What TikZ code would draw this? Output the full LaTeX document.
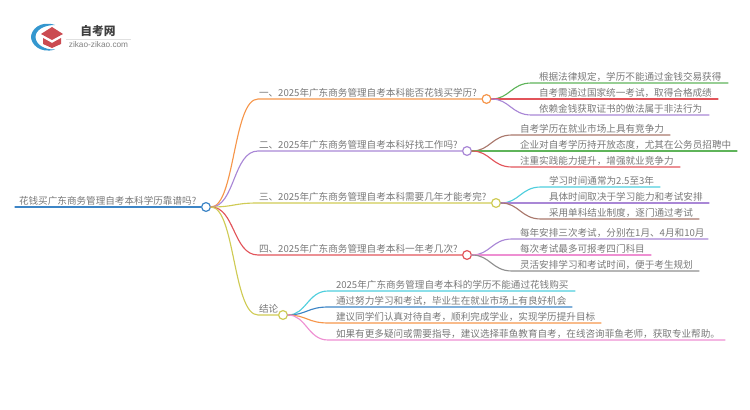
\documentclass[tikz,border=0pt]{standalone}
\usepackage{fontspec}
\usetikzlibrary{calc}
\setmainfont{Noto Sans CJK SC}
\newfontfamily\latinf{Liberation Sans}
\definecolor{cblue}{HTML}{3D85C6}
\definecolor{corange}{HTML}{F6964B}
\definecolor{cpurple}{HTML}{A987D6}
\definecolor{colive}{HTML}{CFCB55}
\definecolor{cred}{HTML}{E2545A}
\definecolor{cgreen}{HTML}{5FB45A}
\definecolor{cbrown}{HTML}{A9786C}
\definecolor{ccyan}{HTML}{4FCEDD}
\definecolor{cpink}{HTML}{EE8FD2}
\definecolor{cgray}{HTML}{8F8F8F}
\definecolor{tgray}{HTML}{787878}
\newcommand{\ontext}[1]{\raisebox{2.1pt}[7pt][0pt]{#1}}
\tikzset{
 x=0.75pt,y=-0.75pt,
 lbl/.style={anchor=south west,inner sep=0pt,outer sep=0pt,font=\fontsize{7.2}{8}\selectfont,text=tgray,align=left},
 knob/.style={circle,draw=#1,fill=white,line width=0.9pt,minimum size=6.6pt,inner sep=0pt},
 conn/.style={line width=0.85pt,line cap=round},
}
% \branchn{name}{xstart}{width}{y}{colour}{text}{circle x}
\newcommand{\branchn}[7]{%
 \node[lbl,text width=#3*0.75pt] (#1) at (#2,#4) {\ontext{#6}};
 \node[knob=#5] (#1k) at (#7,#4) {};
 \draw[conn,#5] (root.east) .. controls ($(root.east)+(24,0)$) and ($(#1.south west)+(-26,0)$) .. ($(#1.south west)+(-1,0)$) -- (#1k.west);
}
% \leafn{name}{parent}{xstart}{length}{y}{colour}{text}
\newcommand{\leafn}[7]{%
 \node[lbl,text width=#4*0.75pt] (#1) at (#3,#5) {\ontext{\hspace*{2.25pt}#7}};
 \coordinate (#1m) at ($(#2.east)+(40,0)$);
 \draw[conn,#6] (#2.east) .. controls ($(#2.east)+(18,0)$) and ($(#1m |- #1.south west)+(-20,0)$) .. (#1m |- #1.south west) -- (#1.south east);
}
\begin{document}
\begin{tikzpicture}
\useasboundingbox (0,0) rectangle (750,410);
% logo
\fill[cblue!85!cyan] (55,25) .. controls (40,20) and (31,30) .. (31,37) .. controls (31,44) and (40,54) .. (55,49.5) .. controls (44,50) and (35.5,44) .. (35.5,37) .. controls (35.5,30) and (44,25) .. (55,25) -- cycle;
\fill[cred!90!black] (52,27) -- (63,34) -- (52,40) -- (41,34) -- cycle;
\fill[cred!90!black] (43,38) -- (52,43) -- (61,38) -- (61,44) -- (52,48) -- (43,44) -- cycle;
\node[inner sep=0pt,font=\fontsize{8.8}{9}\selectfont\bfseries,text=black!75] (lg) at (98,31) {自考网};
\coordinate (la) at (66,39); \coordinate (lb) at (131,39);
\draw[black!12,line width=0.4pt] (la) -- (lb);
\node[inner sep=0pt,font=\fontsize{6.2}{6.5}\selectfont\latinf,text=black!50] (ls) at (98.5,45) {zikao-zikao.com};
% root
\node[lbl,text width=187*0.75pt] (rt) at (15,207) {\ontext{\hspace*{3pt}花钱买广东商务管理自考本科学历靠谱吗?}};
\node[knob=cblue] (root) at (206,207) {};
\draw[conn,cblue] (rt.south west) -- (root.west);
% branches
\branchn{b1}{259}{222}{99}{corange}{一、2025年广东商务管理自考本科能否花钱买学历?}{486.5}
\branchn{b2}{259}{204}{151}{cpurple}{二、2025年广东商务管理自考本科好找工作吗?}{467}
\branchn{b3}{259}{232}{203}{colive}{三、2025年广东商务管理自考本科需要几年才能考完?}{496}
\branchn{b4}{259}{204}{255}{cred}{四、2025年广东商务管理自考本科一年考几次?}{467}
\branchn{b5}{259}{20}{315}{colive}{结论}{283}
% leaves
\leafn{a1}{b1k}{536}{192}{83}{cgreen}{根据法律规定，学历不能通过金钱交易获得}
\leafn{a2}{b1k}{536}{182}{99}{cred}{自考需通过国家统一考试，取得合格成绩}
\leafn{a3}{b1k}{536}{173}{115}{cpurple}{依赖金钱获取证书的做法属于非法行为}
\leafn{c1}{b2k}{517}{153}{135}{cbrown}{自考学历在就业市场上具有竞争力}
\leafn{c2}{b2k}{517}{220}{151}{cgreen}{企业对自考学历持开放态度，尤其在公务员招聘中}
\leafn{c3}{b2k}{517}{163}{167}{cred}{注重实践能力提升，增强就业竞争力}
\leafn{d1}{b3k}{546}{114}{187}{ccyan}{学习时间通常为2.5至3年}
\leafn{d2}{b3k}{546}{163}{203}{cpurple}{具体时间取决于学习能力和考试安排}
\leafn{d3}{b3k}{546}{153}{219}{cbrown}{采用单科结业制度，逐门通过考试}
\leafn{e1}{b4k}{517}{191}{239}{cpurple}{每年安排三次考试，分别在1月、4月和10月}
\leafn{e2}{b4k}{517}{134}{255}{cpink}{每次考试最多可报考四门科目}
\leafn{e3}{b4k}{517}{182}{271}{cgray}{灵活安排学习和考试时间，便于考生规划}
\leafn{f1}{b5k}{333}{242}{291}{ccyan}{2025年广东商务管理自考本科的学历不能通过花钱购买}
\leafn{f2}{b5k}{333}{239}{307}{cblue}{通过努力学习和考试，毕业生在就业市场上有良好机会}
\leafn{f3}{b5k}{333}{268}{323}{corange}{建议同学们认真对待自考，顺利完成学业，实现学历提升目标}
\leafn{f4}{b5k}{333}{392}{340}{cpink}{如果有更多疑问或需要指导，建议选择菲鱼教育自考，在线咨询菲鱼老师，获取专业帮助。}
\end{tikzpicture}
\end{document}
